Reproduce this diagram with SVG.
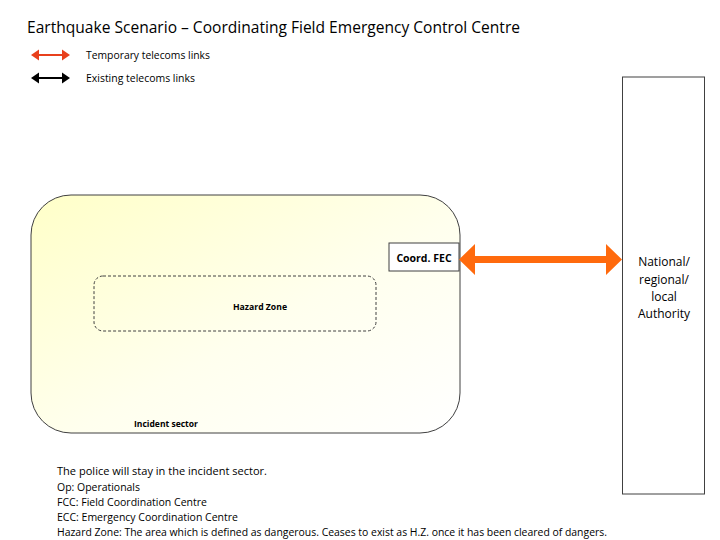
<svg xmlns="http://www.w3.org/2000/svg" width="720" height="540" viewBox="0 0 720 540">
<defs>
<linearGradient id="sectorFill" x1="0" y1="0" x2="1" y2="1">
<stop offset="0" stop-color="#FFFFC8"/>
<stop offset="0.55" stop-color="#FFFFEE"/>
<stop offset="1" stop-color="#FFFFFF"/>
</linearGradient>
<style>
text{font-family:"Open Sans","Liberation Sans",sans-serif;fill:#000}
.bold{font-weight:bold}
.small{font-size:9px}
.legend{font-size:10.5px}
.note{font-size:10.5px}
</style>
</defs>
<rect width="720" height="540" fill="#fff"/>
<text x="27" y="33" font-size="16" textLength="493" lengthAdjust="spacingAndGlyphs">Earthquake Scenario – Coordinating Field Emergency Control Centre</text>
<g id="legend">
<polygon points="31,55 39,49.5 39,54 62,54 62,49.5 70,55 62,60.5 62,56 39,56 39,60.5" fill="#E8401C"/>
<text class="legend" x="86" y="59" textLength="124" lengthAdjust="spacingAndGlyphs">Temporary telecoms links</text>
<polygon points="31,78 39,72.5 39,77 62,77 62,72.5 70,78 62,83.5 62,79 39,79 39,83.5" fill="#000"/>
<text class="legend" x="86" y="82" textLength="109" lengthAdjust="spacingAndGlyphs">Existing telecoms links</text>
</g>
<g id="incident-sector">
<rect x="31" y="195" width="429" height="238" rx="40" ry="40" fill="url(#sectorFill)" stroke="#404040" stroke-width="1"/>
<text class="bold small" x="134" y="427" textLength="64" lengthAdjust="spacingAndGlyphs">Incident sector</text>
</g>
<g id="hazard-zone">
<rect x="94" y="276" width="282" height="55" rx="9" ry="9" fill="none" stroke="#404040" stroke-width="1" stroke-dasharray="3,2"/>
<text class="bold small" x="233" y="310" textLength="54" lengthAdjust="spacingAndGlyphs">Hazard Zone</text>
</g>
<g id="coord-fec">
<rect x="389" y="243" width="70" height="28" fill="#fff" stroke="#404040" stroke-width="1"/>
<text class="bold" x="424" y="262" font-size="10.5" text-anchor="middle">Coord. FEC</text>
</g>
<g id="authority">
<rect x="622.5" y="77" width="82" height="417" fill="#fff" stroke="#404040" stroke-width="1"/>
<text x="664" y="266" font-size="12" text-anchor="middle">National/</text>
<text x="664" y="284" font-size="12" text-anchor="middle">regional/</text>
<text x="664" y="301" font-size="12" text-anchor="middle">local</text>
<text x="664" y="318" font-size="12" text-anchor="middle">Authority</text>
</g>
<g id="connectors">
<polygon points="459,259.5 475,244 475,256 606,256 606,244 622,259.5 606,275 606,263 475,263 475,275" fill="#FF6A0D"/>
</g>
<g id="notes">
<text class="note" x="57" y="475" textLength="210" lengthAdjust="spacingAndGlyphs">The police will stay in the incident sector.</text>
<text class="note" x="57" y="491" textLength="83" lengthAdjust="spacingAndGlyphs">Op: Operationals</text>
<text class="note" x="57" y="506" textLength="150" lengthAdjust="spacingAndGlyphs">FCC: Field Coordination Centre</text>
<text class="note" x="57" y="521" textLength="181" lengthAdjust="spacingAndGlyphs">ECC: Emergency Coordination Centre</text>
<text class="note" x="57" y="536" textLength="550" lengthAdjust="spacingAndGlyphs">Hazard Zone: The area which is defined as dangerous. Ceases to exist as H.Z. once it has been cleared of dangers.</text>
</g>
</svg>
